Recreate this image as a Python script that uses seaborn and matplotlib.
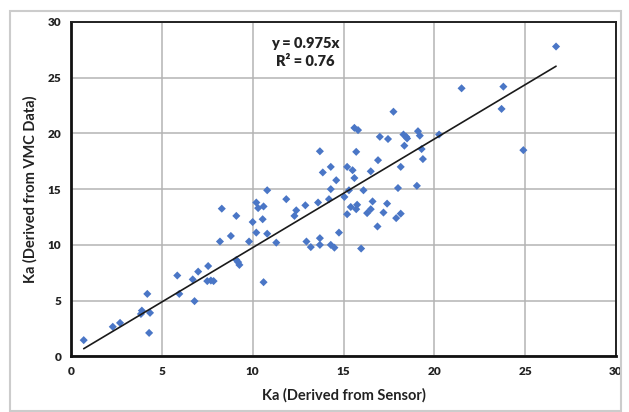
import matplotlib
matplotlib.use("Agg")
import matplotlib.pyplot as plt
import seaborn as sns
import numpy as np
import pandas as pd
from matplotlib.patches import Rectangle

# ---- data ----
sensor_ka = [0.7, 2.3, 2.7, 3.9, 3.85, 4.35, 4.2, 4.3, 5.85, 5.96, 6.8, 6.7, 7.0, 7.55,
             7.5, 7.7, 7.85, 8.2, 8.3, 8.8, 9.1, 9.1, 9.2, 9.27, 9.8, 10.0, 10.2, 10.2,
             10.3, 10.6, 10.55, 10.8, 10.8, 10.6, 11.3, 11.85, 12.3, 12.4, 12.9, 12.96,
             13.2, 13.6, 13.7, 13.7, 13.7, 13.86, 14.2, 14.3, 14.3, 14.3, 14.5, 14.6,
             14.75, 15.05, 15.2, 15.2, 15.3, 15.4, 15.5, 15.6, 15.6, 15.8, 15.7, 15.7,
             15.75, 15.97, 16.1, 16.3, 16.5, 16.5, 16.6, 16.87, 16.9, 17.0, 17.2, 17.4,
             17.45, 17.75, 17.9, 18.0, 18.15, 18.15, 18.3, 18.45, 18.5, 18.35, 19.04,
             19.1, 19.2, 19.3, 19.37, 20.26, 21.5, 23.7, 23.8, 24.9, 26.7]
vmc_ka = [1.45, 2.65, 3.0, 4.1, 3.8, 3.9, 5.6, 2.1, 7.25, 5.6, 4.95, 6.9, 7.6, 8.1,
          6.75, 6.8, 6.75, 10.3, 13.25, 10.8, 12.6, 8.65, 8.45, 8.2, 10.3, 12.05, 11.1,
          13.8, 13.3, 13.45, 12.3, 14.9, 11.0, 6.65, 10.2, 14.1, 12.6, 13.1, 13.55, 10.3,
          9.8, 13.8, 10.6, 10.0, 18.4, 16.5, 14.1, 17.0, 15.0, 10.0, 9.75, 15.8,
          11.1, 14.3, 17.0, 12.75, 14.9, 13.4, 16.7, 16.0, 20.5, 20.3, 18.35, 13.2,
          13.6, 9.67, 14.9, 12.85, 16.6, 13.2, 13.9, 11.65, 17.6, 19.7, 12.9, 13.7,
          19.5, 21.95, 12.4, 15.1, 17.0, 12.8, 19.9, 19.7, 19.55, 18.9, 15.3,
          20.2, 19.8, 18.6, 17.7, 19.9, 24.05, 22.2, 24.2, 18.5, 27.8]
slope = 0.975
r_squared = 0.76
x_ticks = [0, 5, 10, 15, 20, 25, 30]
y_ticks = [0, 5, 10, 15, 20, 25, 30]
x_label = "Ka (Derived from Sensor)"
y_label = "Ka (Derived from VMC Data)"

df = pd.DataFrame({"sensor": sensor_ka, "vmc": vmc_ka})
x_line = np.array([min(sensor_ka), max(sensor_ka)])
trend = pd.DataFrame({"x": x_line, "y": slope * x_line})

sns.set_style("white")
plt.rcParams["font.family"] = ["Lato", "DejaVu Sans"]
plt.rcParams["font.weight"] = "bold"

fig = plt.figure(figsize=(6.29, 4.12), dpi=100)
ax = fig.add_axes([71 / 629, 1 - 356.3 / 412, (616 - 71) / 629, (356.3 - 22) / 412])

ax.grid(True, color="#b4b4b4", linewidth=1.1)
ax.set_axisbelow(True)

sns.scatterplot(data=df, x="sensor", y="vmc", marker="D", s=17, color="#4a76c6",
                edgecolor="none", ax=ax, zorder=3)
sns.lineplot(data=trend, x="x", y="y", color="#1a1a1a", linewidth=1.2, ax=ax, zorder=4)

ax.set_xlim(0, 30)
ax.set_ylim(0, 30)
ax.set_xticks(x_ticks)
ax.set_yticks(y_ticks)
ax.set_xticklabels([str(t) for t in x_ticks], fontsize=8.5, fontweight="heavy", color="#222222")
ax.set_yticklabels([str(t) for t in y_ticks], fontsize=8.5, fontweight="heavy", color="#222222")
ax.tick_params(axis="both", direction="out", length=4, width=1, color="#333333", pad=3)

ax.set_xlabel(x_label, fontsize=10.5, fontweight="bold", color="#222222", labelpad=8)
ax.set_ylabel(y_label, fontsize=10.5, fontweight="bold", color="#222222", labelpad=7)

for side in ["left", "bottom"]:
    ax.spines[side].set_linewidth(2.0)
    ax.spines[side].set_color("#111111")
for side in ["top", "right"]:
    ax.spines[side].set_linewidth(1.4)
    ax.spines[side].set_color("#222222")

ax.text(12.9, 27.3, f"y = {slope}x\nR\u00b2 = {r_squared}", ha="center", va="center",
        fontsize=10.5, fontweight="heavy", color="#222222", linespacing=1.45)

fig.patches.append(Rectangle((10 / 629, 1 / 412), 611 / 629, 400 / 412,
                             transform=fig.transFigure, fill=False,
                             edgecolor="#cccccc", linewidth=1.5))

fig.savefig("out.png", dpi=100)
